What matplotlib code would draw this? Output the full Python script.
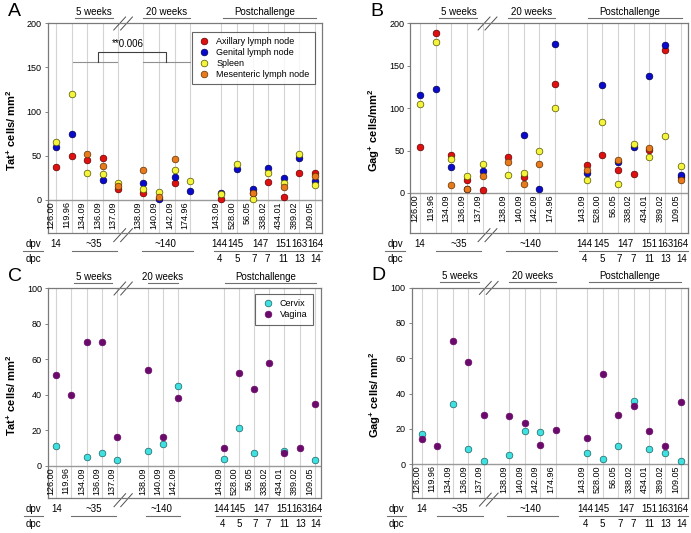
import numpy as np
import matplotlib.pyplot as plt
from matplotlib.lines import Line2D

plt.rcParams['font.family'] = ['Liberation Sans', 'DejaVu Sans']
plt.rcParams['mathtext.fontset'] = 'custom'
plt.rcParams['mathtext.rm'] = 'Liberation Sans'
plt.rcParams['mathtext.bf'] = 'Liberation Sans:bold'

nan = np.nan

# animals (columns)
animals = ['126.00', '119.96', '134.09', '136.09', '137.09',
           '138.09', '140.09', '142.09', '174.96',
           '143.09', '528.00', '56.05', '338.02', '434.01', '389.02', '109.05']
animals_c = ['126.00', '119.96', '134.09', '136.09', '137.09',
             '138.09', '140.09', '142.09',
             '143.09', '528.00', '56.05', '338.02', '434.01', '389.02', '109.05']

dpv_labels = ['14', '~35', '~140', '144', '145', '147', '151', '163', '164']
dpc_labels = ['4', '5', '7', '7', '11', '13', '14']
periods = ['5 weeks', '20 weeks', 'Postchallenge']

# panel A: Tat+ cells in lymphoid tissues
tat_axillary = [37, 50, 45, 47, 12, 8, nan, 19.5, nan, 1, nan, 7.5, 20, 3, 31, 30]
tat_genital = [60, 75, nan, 23, nan, 19, 1, 26, 10, 8, 35, 13, 36, 25, 48, 21]
tat_spleen = [66, 120, 31, 29, 19.5, 12, 8.5, 34, 22, 6.5, 41, 1, 31, 19, 52, 17.5]
tat_mesenteric = [nan, nan, 52, 38, 16, 34, 3, 46, nan, nan, nan, 8, nan, 15, nan, 27]

# panel B: Gag+ cells in lymphoid tissues
gag_axillary = [54, 188, 45, 15, 4, 42, 19, nan, 128, 33.5, 44.5, 27, 22, 50.5, 168, 19]
gag_genital = [115.5, 123, 31, 5, 25.5, nan, 68, 5, 175, 23, 127, 36.5, 54.5, 138, 174.5, 21.5]
gag_spleen = [105, 178, 40, 20, 34.5, 21.5, 23, 49.5, 100, 15, 84, 10, 57.5, 42.5, 67, 31.5]
gag_mesenteric = [nan, nan, 9, 4.5, 19.5, 36, 10, 34.5, nan, 27.5, nan, 38.5, nan, 53.5, nan, 15]

# panel C: Tat+ cells in mucosa
tat_cervix = [11, nan, 5, 7, 3, 8, 12, 45, 4, 21, 7, nan, 8.3, nan, 3]
tat_vagina = [51, 40, 70, 70, 16, 54, 16, 38, 10, 52, 43, 58, 7.4, 10, 35]

# panel D: Gag+ cells in mucosa
gag_cervix = [17, nan, 34, 8.3, 2, 5, 19, 18, nan, 6, 3, 10, 36, 8.5, 6, 2]
gag_vagina = [14, 10, 70, 58, 28, 27, 23, 11, 19.3, 15, 51, 28, 33, 19, 10, 35]

lymph_names = ['Axillary lymph node', 'Genital lymph node', 'Spleen', 'Mesenteric lymph node']
lymph_colors = ['#e01010', '#0a0acc', '#f4f43a', '#e87a1e']
mucosa_names = ['Cervix', 'Vagina']
mucosa_colors = ['#3ee0e0', '#6a0a6a']

pos_full = [0, 1, 2, 3, 4, 5.6, 6.6, 7.6, 8.6, 10.6, 11.6, 12.6, 13.6, 14.6, 15.6, 16.6]
pos_c = [0, 1, 2, 3, 4, 6, 7, 8, 11, 12, 13, 14, 15, 16, 17]

fig = plt.figure(figsize=(6.91, 5.33), dpi=100)


def panel(rect, letter, names, pos, n20, series, colors, edges, ylim, yticks,
          xlim, ylabel, lab_x, legend_names=None, legend_anchor=None, brk=0.3):
    ax = fig.add_axes(rect)
    ax.set_xlim(*xlim)
    ax.set_ylim(*ylim)
    ymax = ylim[1]
    for x in pos:
        ax.axvline(x, color='#d4d4d4', lw=0.8, zorder=0)
    ax.axhline(0, color='#9a9a9a', lw=1.0, zorder=1)
    for vals, col, ec in zip(series, colors, edges):
        ax.plot(pos, vals, 'o', ms=4.8, mfc=col, mec=ec, mew=0.5, ls='none',
                zorder=3, clip_on=False)
    for x, nm in zip(pos, names):
        ax.text(x - 0.04, -ymax * 0.008, nm, rotation=90, ha='right', va='top',
                fontsize=6.5)
    ax.set_yticks(yticks)
    ax.set_xticks([])
    ax.tick_params(axis='y', labelsize=6.5, length=2.5, width=0.6,
                   color='#707070', pad=2)
    for s in ax.spines.values():
        s.set_color('#7a7a7a')
        s.set_linewidth(0.9)
    ax.set_ylabel(ylabel, fontsize=8, fontweight='bold')
    ax.yaxis.set_label_coords(lab_x, 0.49)
    tr = ax.get_xaxis_transform()

    pre = pos[:5]
    mid = pos[5:5 + n20]
    post = pos[5 + n20:]

    # top period labels
    top_txt = [(2.45, 1.2, 3.65),
               ((mid[0] + mid[-1]) / 2, mid[0] + 0.0, mid[-1] + 0.0),
               ((post[0] + post[-1]) / 2 - 0.25, post[0] + 0.1, post[-1] + 0.05)]
    for lab, (cx, x0, x1) in zip(periods, top_txt):
        ax.text(cx, 1.055, lab, transform=tr, ha='center', va='center', fontsize=7)
        ax.plot([x0, x1], [1.025, 1.025], transform=tr, color='#707070', lw=0.8,
                clip_on=False)

    # axis break marks
    c = pre[-1] + brk
    for y0, y1 in [(0.968, 1.03), (-0.04, 0.022)]:
        for dx in (-0.22, 0.22):
            ax.plot([c + dx - 0.38, c + dx + 0.38], [y0, y1], transform=tr,
                    color='#505050', lw=0.7, clip_on=False)

    # dpv / dpc rows
    ydpv, yline, ydpc = -0.052, -0.086, -0.124
    ax.text(-0.055, ydpv, 'dpv', transform=ax.transAxes, ha='center', va='center',
            fontsize=7)
    ax.text(-0.055, ydpc, 'dpc', transform=ax.transAxes, ha='center', va='center',
            fontsize=7)
    ax.plot([-0.09, -0.02], [yline, yline], transform=ax.transAxes,
            color='#707070', lw=0.8, clip_on=False)
    dpv_x = [pre[0], 2.45, (mid[0] + mid[-1]) / 2 - 0.1,
             post[0] - 0.12, post[1] - 0.08, (post[2] + post[3]) / 2,
             post[4], post[5], post[6]]
    for lab, x in zip(dpv_labels, dpv_x):
        ax.text(x, ydpv, lab, transform=tr, ha='center', va='center', fontsize=7)
    dpc_x = [post[0] - 0.1, post[1], post[2] + 0.1, post[3] - 0.05,
             post[4], post[5] + 0.05, post[6] + 0.05]
    for lab, x in zip(dpc_labels, dpc_x):
        ax.text(x, ydpc, lab, transform=tr, ha='center', va='center', fontsize=7)
    for x0, x1 in [(1.0, 3.9), (mid[0] - 0.1, mid[-1] + 0.15),
                   (post[0] - 0.5, xlim[1])]:
        ax.plot([x0, x1], [yline, yline], transform=tr, color='#707070', lw=0.8,
                clip_on=False)

    fig.text(rect[0] - 0.048, rect[1] + rect[3] + 0.022, letter, fontsize=14,
             ha='center', va='center')

    if legend_names:
        handles = [Line2D([], [], marker='o', ls='none', ms=4.8, mfc=col,
                          mec=ec, mew=0.5)
                   for col, ec in zip(colors, edges)]
        leg = ax.legend(handles, legend_names, loc='upper right',
                        bbox_to_anchor=legend_anchor, fontsize=6.5,
                        frameon=True, fancybox=False, handletextpad=0.6,
                        labelspacing=0.2, borderpad=0.6, handlelength=1.5,
                        borderaxespad=0)
        leg.get_frame().set_edgecolor('#404040')
        leg.get_frame().set_linewidth(0.8)
    return ax


edge_l = ['#600000', '#000050', '#505000', '#603000']
edge_m = ['#206060', '#6a0a6a']

axA = panel([0.0695, 0.5623, 0.3965, 0.394], 'A', animals, pos_full, 4,
            [tat_axillary, tat_genital, tat_spleen, tat_mesenteric],
            lymph_colors, edge_l, (-37.7, 200), [0, 50, 100, 150, 200],
            (-0.51, 17.05), r'Tat$^{\mathbf{+}}$ cells/ mm$^{\mathbf{2}}$', -0.11,
            lymph_names, (0.974, 0.959))

# significance bracket
axA.plot([1.1, 3.9], [156.5, 156.5], color='#909090', lw=0.8)
axA.plot([5.6, 8.6], [156.5, 156.5], color='#909090', lw=0.8)
axA.plot([2.67, 2.67, 7.03, 7.03], [156.5, 167, 167, 156.5], color='#404040', lw=0.8)
axA.text(4.6, 177, '**0.006', ha='center', va='center', fontsize=7)

panel([0.594, 0.5623, 0.4016, 0.394], 'B', animals, pos_full, 4,
      [gag_axillary, gag_genital, gag_spleen, gag_mesenteric],
      lymph_colors, edge_l, (-47.6, 200), [0, 50, 100, 150, 200],
      (-0.6, 17.05), r'Gag$^{\mathbf{+}}$ cells/mm$^{\mathbf{2}}$', -0.103)

panel([0.0699, 0.0651, 0.3946, 0.394], 'C', animals_c, pos_c, 3,
      [tat_cervix, tat_vagina], mucosa_colors, edge_m, (-18.4, 100),
      [0, 20, 40, 60, 80, 100], (-0.52, 17.4),
      r'Tat$^{\mathbf{+}}$ cells/ mm$^{\mathbf{2}}$', -0.11,
      mucosa_names, (0.97, 0.973), brk=0.4)

panel([0.5958, 0.0662, 0.3994, 0.394], 'D', animals, pos_full, 4,
      [gag_cervix, gag_vagina], mucosa_colors, edge_m, (-19.1, 100),
      [0, 20, 40, 60, 80, 100], (-0.64, 17.05),
      r'Gag$^{\mathbf{+}}$ cells/ mm$^{\mathbf{2}}$', -0.103)

fig.savefig('out.png', dpi=100)
